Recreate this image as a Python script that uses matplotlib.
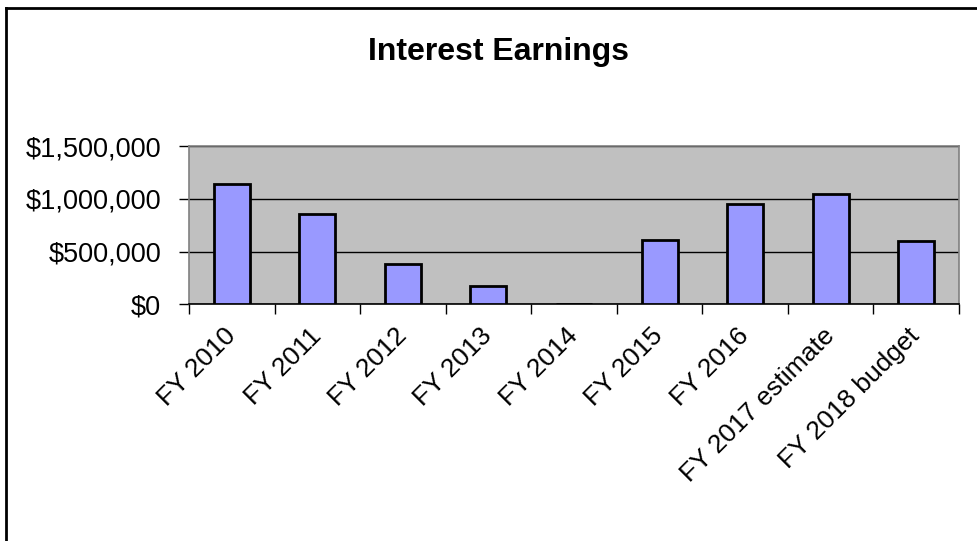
import matplotlib
matplotlib.use("Agg")
import matplotlib.pyplot as plt
from matplotlib.ticker import FuncFormatter
from matplotlib.lines import Line2D

categories = ["FY 2010", "FY 2011", "FY 2012", "FY 2013", "FY 2014",
              "FY 2015", "FY 2016", "FY 2017 estimate", "FY 2018 budget"]
earnings = [1140000, 855000, 380000, 174000, 3000,
            610000, 952000, 1050000, 598000]

plt.rcParams['font.family'] = ['Liberation Sans', 'DejaVu Sans']

fig = plt.figure(figsize=(9.77, 5.41), dpi=100)
ax = fig.add_axes([0.1934, 0.4375, 0.7882, 0.2925])
ax.set_facecolor("#C0C0C0")

x = list(range(len(categories)))
ax.bar(x, earnings, width=0.42, color="#9999FF", edgecolor="black", linewidth=2, zorder=3)

ax.set_xlim(-0.5, len(categories) - 0.5)
ax.set_ylim(0, 1500000)
ax.set_yticks([0, 500000, 1000000, 1500000])
ax.yaxis.set_major_formatter(FuncFormatter(lambda v, p: f"${v:,.0f}"))
ax.yaxis.grid(True, color="black", linewidth=1.0, zorder=1)

# ticks at category boundaries, labels at centers
ax.set_xticks([i - 0.5 for i in range(len(categories) + 1)])
ax.set_xticklabels([])
ax.set_xticks(x, minor=True)
ax.set_xticklabels(categories, minor=True, rotation=45, ha="right", va="center",
                   rotation_mode="anchor", fontsize=19)
ax.tick_params(axis="x", which="minor", length=0, pad=20)
ax.tick_params(axis="x", which="major", length=7, width=1, color="black")
ax.tick_params(axis="y", length=7, width=1, color="black", labelsize=19.5, pad=13)

for s in ["left", "top", "right"]:
    ax.spines[s].set_color("#808080")
    ax.spines[s].set_linewidth(1.2)
ax.spines["bottom"].set_color("black")
ax.spines["bottom"].set_linewidth(1.2)

fig.text(0.51, 1 - 52 / 541, "Interest Earnings", ha="center", va="center",
         fontsize=23, fontweight="bold")

# outer chart frame (left and top edges visible)
fig.add_artist(Line2D([6 / 977, 6 / 977], [0, 1 - 8 / 541], color="black", linewidth=2))
fig.add_artist(Line2D([6 / 977, 1], [1 - 8 / 541, 1 - 8 / 541], color="black", linewidth=2))

fig.savefig("out.png", dpi=100)
